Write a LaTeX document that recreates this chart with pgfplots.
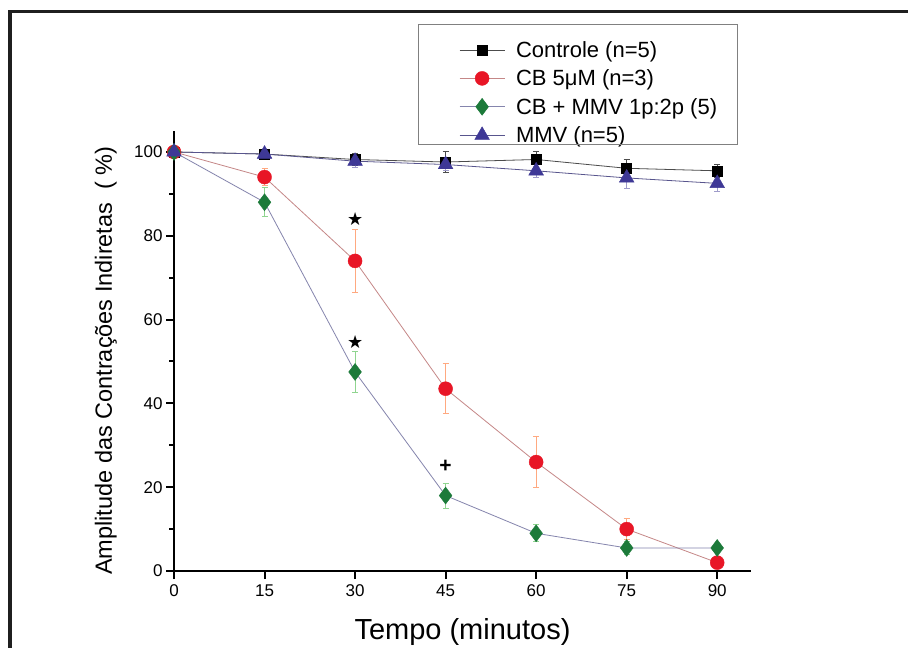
\documentclass[border=0pt]{standalone}
\usepackage{pgfplots}
\pgfplotsset{compat=1.18}
\usepackage{fontspec}
\setmainfont{Liberation Sans}
\newfontfamily\dejavu{DejaVu Sans}
\definecolor{cbred}{RGB}{232,22,38}
\definecolor{cbgreen}{RGB}{28,122,58}
\definecolor{mmvblue}{RGB}{62,56,150}
\begin{document}
\begin{tikzpicture}
\useasboundingbox (0,0) rectangle (908pt,-648pt);
\fill[white] (0,0) rectangle (908pt,-648pt);
\draw[line width=3.5pt, black!88, line join=miter] (10pt,-648pt) -- (10pt,-11.5pt) -- (908pt,-11.5pt);
\begin{axis}[
  at={(174pt,-571pt)}, anchor=south west,
  scale only axis, width=577pt, height=440pt,
  xmin=0, xmax=95.6, ymin=0, ymax=105,
  axis lines=left, axis line style={line width=2.2pt, -},
  xtick={0,15,...,90}, ytick={0,20,...,100},
  minor ytick={10,30,...,90},
  tick align=outside, major tick length=8pt, minor tick length=5pt,
  tick style={line width=2pt, black},
  every tick label/.append style={font=\fontsize{17}{19}\selectfont},
  xticklabel style={yshift=-2pt},
  /pgf/number format/assume math mode=true,
  xlabel={Tempo (minutos)},
  ylabel={Amplitude das Contrações Indiretas\ \ ( \%)},
  xlabel style={font=\fontsize{29}{32}\selectfont, at={(axis description cs:0.5,-0.138)}, anchor=center},
  ylabel style={font=\fontsize{23.5}{26}\selectfont, at={(axis description cs:-0.118,0.478)}, anchor=center},
  legend style={at={(axis description cs:0.4229,1.2295)}, anchor=north west,
    draw=none, fill=none, font=\fontsize{22}{24}\selectfont,
    inner xsep=16pt, inner ysep=9pt, row sep=7pt, column sep=9pt,
    nodes={inner sep=2pt}, cells={anchor=west}},
  legend image code/.code={\path (-25pt,0pt);
    \draw[mark repeat=2,mark phase=2,#1] plot coordinates {(0pt,0pt)(22.5pt,0pt)(45pt,0pt)};},
  error bars/y dir=both, error bars/y explicit,
]
\addplot[color=black!70, line width=0.8pt, mark=square*, mark size=5pt,
  mark options={fill=black, draw=black, line width=0.4pt},
  error bars/error bar style={line width=1pt, black!70},
  error bars/error mark options={rotate=90, mark size=3pt, line width=1pt, black!70}]
  table[x=t, y=v, y error=e] {
t v e
0 100 0
15 99.5 1
30 98.2 1.5
45 97.6 2.5
60 98.2 2
75 96.1 2
90 95.5 1.5
};
\addlegendentry{Controle (n=5)}
\addplot[color=red!35!gray!70, line width=0.8pt, mark=*, mark size=7pt,
  mark options={fill=cbred, draw=cbred, line width=0.4pt},
  error bars/error bar style={line width=1pt, red!35!orange!50},
  error bars/error mark options={rotate=90, mark size=3pt, line width=1pt, red!35!orange!50}]
  table[x=t, y=v, y error=e] {
t v e
0 100 0
15 94 2
30 74 7.5
45 43.5 6
60 26 6
75 10 2.5
90 2 1.5
};
\addlegendentry{CB 5μM (n=3)}
\addplot[color=gray!80!blue!80, line width=0.8pt, mark=diamond*, mark size=8.5pt,
  mark options={fill=cbgreen, draw=cbgreen, line width=0.4pt},
  error bars/error bar style={line width=1pt, green!45!gray!60},
  error bars/error mark options={rotate=90, mark size=3pt, line width=1pt, green!45!gray!60}]
  table[x=t, y=v, y error=e] {
t v e
0 100 0
15 88 3.5
30 47.5 5
45 18 3
60 9 2
75 5.5 1.5
90 5.5 1
};
\addlegendentry{CB + MMV 1p:2p (5)}
\addplot[color=mmvblue!60!gray, line width=0.8pt, mark=triangle*, mark size=8.5pt,
  mark options={fill=mmvblue, draw=mmvblue, line width=0.4pt},
  error bars/error bar style={line width=1pt, mmvblue!50},
  error bars/error mark options={rotate=90, mark size=3pt, line width=1pt, mmvblue!50}]
  table[x=t, y=v, y error=e] {
t v e
0 100 0
15 99.5 1
30 97.8 1.5
45 97 1.5
60 95.5 1.5
75 93.8 2.5
90 92.5 2
};
\addlegendentry{MMV (n=5)}
\node[font=\dejavu\fontsize{18}{18}\selectfont] at (axis cs:30,84) {★};
\node[font=\dejavu\fontsize{18}{18}\selectfont] at (axis cs:30,54.6) {★};
\node[font=\bfseries\fontsize{21}{21}\selectfont] at (axis cs:45,25) {+};
\end{axis}
\draw[black!50, line width=1pt] (418pt,-24pt) rectangle (737pt,-144pt);
\end{tikzpicture}
\end{document}
